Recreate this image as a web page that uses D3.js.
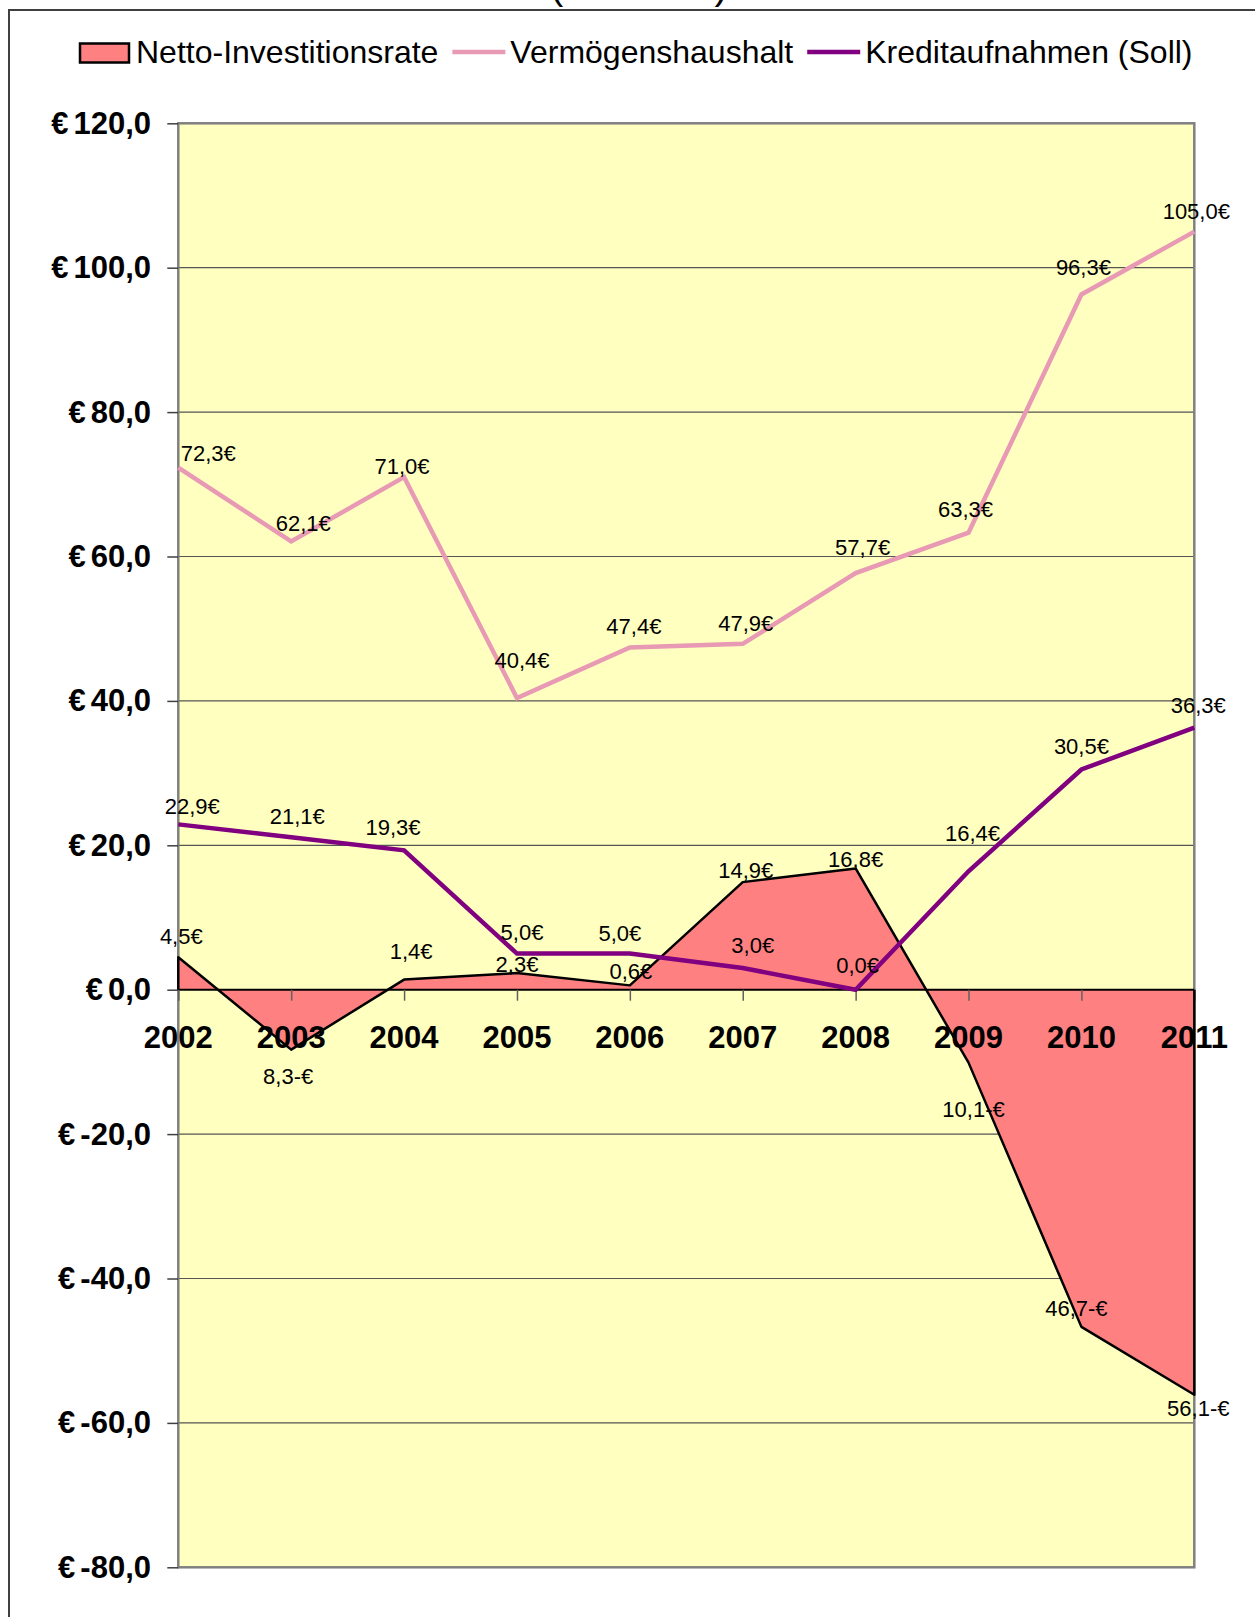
<!DOCTYPE html>
<html>
<head>
<meta charset="utf-8">
<script src="https://cdn.jsdelivr.net/npm/d3@7"></script>
<style>
  body { margin: 0; background: #fff; }
  svg { display: block; font-family: "Liberation Sans", Arial, sans-serif; }
</style>
</head>
<body>
<div id="chart"></div>
<script>
// Data
const years = ["2002", "2003", "2004", "2005", "2006", "2007", "2008", "2009", "2010", "2011"];
const netto = [4.5, -8.3, 1.4, 2.3, 0.6, 14.9, 16.8, -10.1, -46.7, -56.1];
const vermoegen = [72.3, 62.1, 71.0, 40.4, 47.4, 47.9, 57.7, 63.3, 96.3, 105.0];
const kredit = [22.9, 21.1, 19.3, 5.0, 5.0, 3.0, 0.0, 16.4, 30.5, 36.3];
const yTicks = [-80, -60, -40, -20, 0, 20, 40, 60, 80, 100, 120];
const legendNames = ["Netto-Investitionsrate", "Vermögenshaushalt", "Kreditaufnahmen (Soll)"];

// Label nudges (px, relative to point) to follow the original placement
const nudgeVerm = [[30, -15], [12, -18], [-2, -11], [5, -38], [4, -21], [3, -21], [7, -26], [-3, -24], [2, -27], [2, -21]];
const nudgeKredit = [[14, -18], [6, -21], [-11, -23], [5, -22], [-10, -21], [10, -23], [2, -25], [4, -38], [0, -23], [4, -23]];
const nudgeNetto = [[3, -21], [-3, 26], [7, -29], [0, -9], [1, -14], [3, -12], [0, -9], [5, 46], [-5, -19], [4, 13]];

const W = 1255, H = 1617;
const plot = { left: 178.3, right: 1194.3, top: 123.3, bottom: 1567.3 };

const svg = d3.select("#chart").append("svg")
    .attr("width", W)
    .attr("height", H);

// Scales
const x = d3.scalePoint().domain(years).range([plot.left, plot.right]);
const y = d3.scaleLinear().domain([-80, 120]).range([plot.bottom, plot.top]);

const fmt = v => d3.format(".1f")(Math.abs(v)).replace(".", ",");

// Outer frame and clipped title
svg.append("rect")
    .attr("x", 9).attr("y", 10)
    .attr("width", W + 20).attr("height", H + 20)
    .attr("fill", "none").attr("stroke", "#404040").attr("stroke-width", 2);

svg.append("text")
    .attr("x", 639).attr("y", -1.5)
    .attr("text-anchor", "middle")
    .style("font-size", "40px")
    .text("(in Mio. €)");

// Plot background
svg.append("rect")
    .attr("x", plot.left).attr("y", plot.top)
    .attr("width", plot.right - plot.left).attr("height", plot.bottom - plot.top)
    .attr("fill", "#FFFFC0");

// Gridlines
svg.append("g").selectAll("line")
    .data(yTicks.filter(d => d !== 0 && d !== -80 && d !== 120))
    .join("line")
    .attr("x1", plot.left).attr("x2", plot.right)
    .attr("y1", d => y(d)).attr("y2", d => y(d))
    .attr("stroke", "#555").attr("stroke-width", 1.2);

// Plot border
svg.append("rect")
    .attr("x", plot.left).attr("y", plot.top)
    .attr("width", plot.right - plot.left).attr("height", plot.bottom - plot.top)
    .attr("fill", "none").attr("stroke", "#808080").attr("stroke-width", 2.5);

// Y axis
const yAxis = d3.axisLeft(y).tickValues(yTicks).tickSize(11).tickFormat("");
const yg = svg.append("g").attr("transform", `translate(${plot.left},0)`).call(yAxis);
yg.select(".domain").remove();
yg.selectAll(".tick line").attr("stroke", "#404040").attr("stroke-width", 1.5);

const yLabels = svg.append("g").selectAll("text")
    .data(yTicks)
    .join("text")
    .attr("x", 151)
    .attr("y", d => y(d) + 10.5)
    .attr("text-anchor", "end")
    .style("font-size", "31px")
    .style("font-weight", "bold");
yLabels.append("tspan").text("€");
yLabels.append("tspan").attr("dx", 5).text(d => (d < 0 ? "-" : "") + fmt(d));

// Netto area
const area = d3.area()
    .x((d, i) => x(years[i]))
    .y0(y(0))
    .y1(d => y(d));
svg.append("path")
    .datum(netto)
    .attr("d", area)
    .attr("fill", "#FF8080");

// X axis line at zero
svg.append("line")
    .attr("x1", plot.left).attr("x2", plot.right)
    .attr("y1", y(0)).attr("y2", y(0))
    .attr("stroke", "#000").attr("stroke-width", 2);

const xAxis = d3.axisBottom(x).tickSize(11).tickFormat("");
const xg = svg.append("g").attr("transform", `translate(0,${y(0)})`).call(xAxis);
xg.select(".domain").remove();
xg.selectAll(".tick line").attr("stroke", "#606060").attr("stroke-width", 1.5);

svg.append("g").selectAll("text")
    .data(years)
    .join("text")
    .attr("x", d => x(d))
    .attr("y", 1048)
    .attr("text-anchor", "middle")
    .style("font-size", "31px")
    .style("font-weight", "bold")
    .text(d => d);

// Netto outline (top edge plus both sides)
const nettoOutline = [[x(years[0]), y(0)]]
    .concat(netto.map((d, i) => [x(years[i]), y(d)]))
    .concat([[x(years[years.length - 1]), y(0)]]);
svg.append("path")
    .attr("d", d3.line()(nettoOutline))
    .attr("fill", "none").attr("stroke", "#000").attr("stroke-width", 2.5)
    .attr("stroke-linejoin", "round");

// Lines
const line = d3.line().x((d, i) => x(years[i])).y(d => y(d));
svg.append("path").datum(vermoegen).attr("d", line)
    .attr("fill", "none").attr("stroke", "#E899B3").attr("stroke-width", 4.5);
svg.append("path").datum(kredit).attr("d", line)
    .attr("fill", "none").attr("stroke", "#800080").attr("stroke-width", 4.5);

// Data labels
function labels(values, nudges) {
    svg.append("g").selectAll("text")
        .data(values)
        .join("text")
        .attr("x", (d, i) => x(years[i]) + nudges[i][0])
        .attr("y", (d, i) => y(d) + nudges[i][1] + 8)
        .attr("text-anchor", "middle")
        .style("font-size", "22px")
        .text(d => fmt(d) + (d < 0 ? "-" : "") + "€");
}
labels(netto, nudgeNetto);
labels(vermoegen, nudgeVerm);
labels(kredit, nudgeKredit);

// Legend
const lg = svg.append("g");
let lx = 80;
lg.append("rect").attr("x", lx).attr("y", 43.5).attr("width", 49).attr("height", 19)
    .attr("fill", "#FF8080").attr("stroke", "#000").attr("stroke-width", 2.5);
lx += 56;
const legendColors = [null, "#E899B3", "#800080"];
legendNames.forEach((name, i) => {
    if (i > 0) {
        lg.append("line").attr("x1", lx).attr("x2", lx + 53).attr("y1", 52).attr("y2", 52)
            .attr("stroke", legendColors[i]).attr("stroke-width", 4.5);
        lx += 58;
    }
    const t = lg.append("text").attr("x", lx).attr("y", 63)
        .style("font-size", "32px").text(name);
    lx += t.node().getComputedTextLength() + 14;
});
</script>
</body>
</html>
